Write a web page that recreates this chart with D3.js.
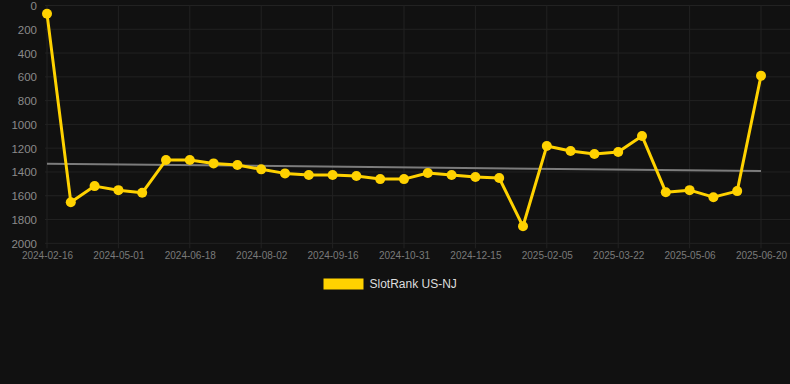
<!DOCTYPE html>
<html>
<head>
<meta charset="utf-8">
<script src="https://cdn.jsdelivr.net/npm/d3@7/dist/d3.min.js"></script>
<style>
  html, body { margin: 0; padding: 0; background: #111111; }
  svg { display: block; }
  text { font-family: "Liberation Sans", Arial, Helvetica, sans-serif; }
</style>
</head>
<body>
<svg id="chart" width="790" height="384"></svg>
<script>
// ---- data ----
const categories = [
  "2024-02-16", "2024-03-12", "2024-04-06",
  "2024-05-01", "2024-05-17", "2024-06-02",
  "2024-06-18", "2024-07-03", "2024-07-18",
  "2024-08-02", "2024-08-17", "2024-09-01",
  "2024-09-16", "2024-10-01", "2024-10-16",
  "2024-10-31", "2024-11-15", "2024-11-30",
  "2024-12-15", "2025-01-02", "2025-01-19",
  "2025-02-05", "2025-02-20", "2025-03-07",
  "2025-03-22", "2025-04-06", "2025-04-21",
  "2025-05-06", "2025-05-21", "2025-06-05",
  "2025-06-20"
];
const rankValues = [
  70, 1654, 1519, 1553, 1575,
  1300, 1300, 1328, 1342, 1378,
  1412, 1426, 1426, 1434, 1460,
  1460, 1409, 1426, 1443, 1451,
  1857, 1181, 1224, 1249, 1232,
  1097, 1570, 1553, 1612, 1561,
  591
];
const trendValues = [1330, 1392]; // trend line at first and last category
const xTickLabels = [
  "2024-02-16", "2024-05-01", "2024-06-18", "2024-08-02", "2024-09-16",
  "2024-10-31", "2024-12-15", "2025-02-05", "2025-03-22", "2025-05-06", "2025-06-20"
];
const yTickValues = [0, 200, 400, 600, 800, 1000, 1200, 1400, 1600, 1800, 2000];
const seriesName = "SlotRank US-NJ";

// ---- layout ----
const svg = d3.select("#chart");
const W = 790;
const plotLeft = 47, plotRight = 761, plotTop = 5.5, plotBottom = 243.3;
const lineColor = "#FFD200";
const gridColor = "#222222";

const x = d3.scalePoint().domain(categories).range([plotLeft, plotRight]);
const y = d3.scaleLinear().domain([0, 2000]).range([plotTop, plotBottom]);

// horizontal grid
svg.append("g").selectAll("line").data(yTickValues).join("line")
  .attr("x1", 45).attr("x2", W)
  .attr("y1", d => y(d)).attr("y2", d => y(d))
  .attr("stroke", gridColor).attr("stroke-width", 1);

// vertical grid
svg.append("g").selectAll("line").data(xTickLabels).join("line")
  .attr("x1", d => x(d)).attr("x2", d => x(d))
  .attr("y1", plotTop).attr("y2", plotBottom + 5)
  .attr("stroke", gridColor).attr("stroke-width", 1);

// y axis labels
const yAxis = d3.axisLeft(y).tickValues(yTickValues).tickFormat(d3.format("d"))
  .tickSize(0).tickPadding(0);
const gy = svg.append("g").attr("transform", "translate(37,0)").call(yAxis);
gy.select(".domain").remove();
gy.selectAll("text")
  .attr("fill", "#8a8a8a")
  .style("font-size", "11.5px")
  .style("font-family", "'Liberation Sans', Arial, sans-serif")
  .attr("dy", "0.35em");

// x axis labels
const xAxis = d3.axisBottom(x).tickValues(xTickLabels).tickSize(0).tickPadding(0);
const gx = svg.append("g").attr("transform", `translate(0,${plotBottom})`).call(xAxis);
gx.select(".domain").remove();
gx.selectAll("text")
  .attr("fill", "#7a7a7a")
  .style("font-size", "10px")
  .style("font-family", "'Liberation Sans', Arial, sans-serif")
  .attr("y", 16)
  .attr("dy", "0");

// trend line
svg.append("line")
  .attr("x1", x(categories[0])).attr("x2", x(categories[categories.length - 1]))
  .attr("y1", y(trendValues[0])).attr("y2", y(trendValues[1]))
  .attr("stroke", "#7c7c7c").attr("stroke-width", 2);

// series line
const data = categories.map((c, i) => ({ c, v: rankValues[i] }));
svg.append("path")
  .datum(data)
  .attr("fill", "none")
  .attr("stroke", lineColor)
  .attr("stroke-width", 3)
  .attr("stroke-linejoin", "round")
  .attr("d", d3.line().x(d => x(d.c)).y(d => y(d.v)));

svg.append("g").selectAll("circle").data(data).join("circle")
  .attr("cx", d => x(d.c)).attr("cy", d => y(d.v))
  .attr("r", 5)
  .attr("fill", lineColor);

// legend
const lg = svg.append("g");
lg.append("rect").attr("x", 323.5).attr("y", 278.5).attr("width", 40).attr("height", 11)
  .attr("fill", lineColor);
lg.append("text").attr("x", 369.5).attr("y", 284).attr("dy", "0.35em")
  .attr("fill", "#dddddd").style("font-size", "12px").text(seriesName);
</script>
</body>
</html>
